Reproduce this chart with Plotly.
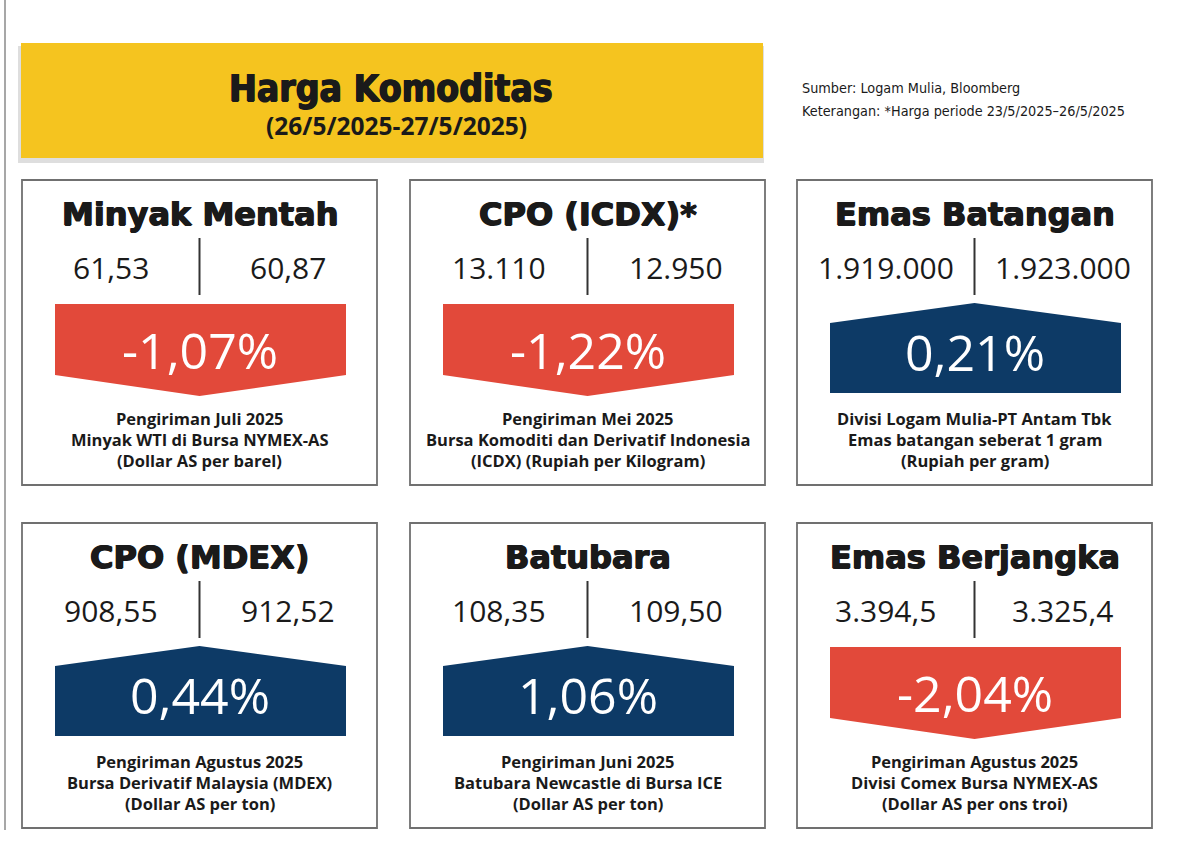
import plotly.graph_objects as go

# ---------------- data ----------------
titles = ["Minyak Mentah", "CPO (ICDX)*", "Emas Batangan",
          "CPO (MDEX)", "Batubara", "Emas Berjangka"]
prev_values = [61.53, 13110, 1919000, 908.55, 108.35, 3394.5]
curr_values = [60.87, 12950, 1923000, 912.52, 109.50, 3325.4]
value_decimals = [2, 0, 0, 2, 2, 1]
pct_changes = [-1.07, -1.22, 0.21, 0.44, 1.06, -2.04]
desc_line1 = ["Pengiriman Juli 2025", "Pengiriman Mei 2025", "Divisi Logam Mulia-PT Antam Tbk",
              "Pengiriman Agustus 2025", "Pengiriman Juni 2025", "Pengiriman Agustus 2025"]
desc_line2 = ["Minyak WTI di Bursa NYMEX-AS", "Bursa Komoditi dan Derivatif Indonesia",
              "Emas batangan seberat 1 gram", "Bursa Derivatif Malaysia (MDEX)",
              "Batubara Newcastle di Bursa ICE", "Divisi Comex Bursa NYMEX-AS"]
desc_line3 = ["(Dollar AS per barel)", "(ICDX) (Rupiah per Kilogram)", "(Rupiah per gram)",
              "(Dollar AS per ton)", "(Dollar AS per ton)", "(Dollar AS per ons troi)"]

main_title = "Harga Komoditas"
sub_title = "(26/5/2025-27/5/2025)"
source_lines = ["Sumber: Logam Mulia, Bloomberg",
                "Keterangan: *Harga periode 23/5/2025\u201326/5/2025"]

# ---------------- style ----------------
W, H = 1179, 849
YELLOW = "#F5C41F"
RED = "#E2493A"
BLUE = "#0D3A66"
BORDER = "#707070"
TXT = "#1a1a1a"
HEAVY = "DejaVu Sans"
COND = "DejaVu Sans Condensed"
BODY = "Open Sans"
THICK = "0.7px 0 0 #1a1a1a, -0.7px 0 0 #1a1a1a, 0 0.5px 0 #1a1a1a"


def fmt_id(v, d):
    s = f"{v:,.{d}f}"
    return s.replace(",", "#").replace(".", ",").replace("#", ".")


fig = go.Figure()
shapes = []
ann = []

# left rule
shapes.append(dict(type="line", x0=5, x1=5, y0=0, y1=830,
                   line=dict(color="#8a8a8a", width=1.5)))

# banner with shadow
shapes.append(dict(type="rect", x0=18, x1=764, y0=46, y1=163,
                   fillcolor="rgba(0,0,0,0.13)", line=dict(width=0)))
shapes.append(dict(type="rect", x0=21, x1=763, y0=43, y1=158,
                   fillcolor=YELLOW, line=dict(width=0)))
ann.append(dict(x=391, y=88, text=f"<b>{main_title}</b>", showarrow=False,
                font=dict(family=COND, size=37, color=TXT, shadow=THICK)))
ann.append(dict(x=396, y=125, text=f"<b>{sub_title}</b>", showarrow=False,
                font=dict(family=BODY, size=24.5, color=TXT)))
for i, line in enumerate(source_lines):
    ann.append(dict(x=800, y=88 + i * 23, text=line, showarrow=False, xanchor="left",
                    font=dict(family=COND, size=14.3, color=TXT)))

card_left = [22, 410, 797]
card_top = [180, 523]
CW, CH = 355, 305

for k in range(len(titles)):
    L = card_left[k % 3]
    T = card_top[k // 3]
    cx = L + CW / 2
    shapes.append(dict(type="rect", x0=L, x1=L + CW, y0=T, y1=T + CH,
                       fillcolor="white", line=dict(color=BORDER, width=1.8)))
    ann.append(dict(x=cx, y=T + 34, text=f"<b>{titles[k]}</b>", showarrow=False,
                    font=dict(family=HEAVY, size=32, color=TXT, shadow=THICK)))
    ann.append(dict(x=cx - 89, y=T + 87, text=fmt_id(prev_values[k], value_decimals[k]),
                    showarrow=False, font=dict(family=BODY, size=30, color=TXT)))
    ann.append(dict(x=cx + 88, y=T + 87, text=fmt_id(curr_values[k], value_decimals[k]),
                    showarrow=False, font=dict(family=BODY, size=30, color=TXT)))
    shapes.append(dict(type="line", x0=cx, x1=cx, y0=T + 58, y1=T + 115,
                       line=dict(color="#333333", width=2)))
    ax0, ax1 = L + 33, L + 324
    if pct_changes[k] < 0:
        path = (f"M{ax0},{T+124} L{ax1},{T+124} L{ax1},{T+195} "
                f"L{cx},{T+216} L{ax0},{T+195} Z")
        col = RED
        pty = T + 170
    else:
        path = (f"M{ax0},{T+143} L{cx},{T+123} L{ax1},{T+143} "
                f"L{ax1},{T+213} L{ax0},{T+213} Z")
        col = BLUE
        pty = T + 172
    shapes.append(dict(type="path", path=path, fillcolor=col, line=dict(width=0)))
    ann.append(dict(x=cx, y=pty, text=fmt_id(pct_changes[k], 2) + "%", showarrow=False,
                    font=dict(family=BODY, size=50, color="white")))
    for j, dl in enumerate([desc_line1[k], desc_line2[k], desc_line3[k]]):
        ann.append(dict(x=cx, y=T + 238 + j * 21, text=f"<b>{dl}</b>", showarrow=False,
                        font=dict(family=BODY, size=16.5, color=TXT)))

fig.update_layout(
    width=W, height=H, margin=dict(l=0, r=0, t=0, b=0),
    paper_bgcolor="white", plot_bgcolor="white",
    xaxis=dict(range=[0, W], visible=False, fixedrange=True),
    yaxis=dict(range=[H, 0], visible=False, fixedrange=True),
    shapes=shapes, annotations=ann, showlegend=False,
)
fig.write_html("out.html", config={"displayModeBar": False},
               post_script="document.body.style.margin='0px';")
